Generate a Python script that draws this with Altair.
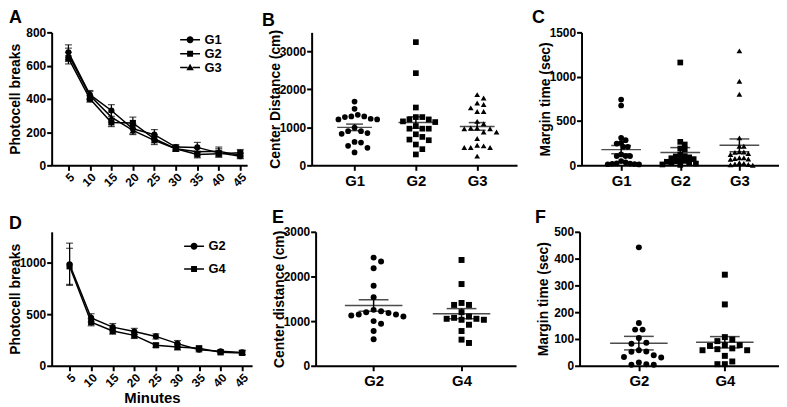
import json
import altair as alt
import numpy as np
import pandas as pd

FONT = "Liberation Sans"

# ---------------- Panel A: photocell breaks per 5-min bin (mean, SEM)
minutes = [5, 10, 15, 20, 25, 30, 35, 40, 45]
a_groups = ["G1", "G2", "G3"]
a_g1_mean = [680, 425, 330, 220, 185, 110, 108, 75, 55]
a_g1_sem = [45, 25, 35, 30, 30, 15, 30, 25, 15]
a_g2_mean = [645, 400, 258, 255, 160, 100, 65, 70, 75]
a_g2_sem = [35, 20, 25, 35, 25, 15, 20, 20, 20]
a_g3_mean = [665, 420, 290, 210, 150, 100, 82, 85, 60]
a_g3_sem = [40, 25, 30, 25, 25, 15, 20, 25, 15]

# ---------------- Panel D
d_groups = ["G2", "G4"]
d_g2_mean = [985, 465, 375, 333, 285, 215, 155, 140, 130]
d_g2_sem = [205, 40, 35, 30, 25, 30, 20, 15, 20]
d_g4_mean = [965, 423, 337, 295, 199, 183, 170, 130, 125]
d_g4_sem = [175, 35, 30, 30, 20, 30, 20, 15, 20]

# ---------------- Panel B: center distance (cm)
b_cats = ["G1", "G2", "G3"]
b_g1 = [1678, 1487, 1287, 1270, 1209, 1209, 1226, 1287, 1330, 990, 900, 900,
        850, 830, 617, 600, 513, 460, 339]
b_g2 = [3243, 2426, 1522, 1270, 1270, 1139, 1157, 1209, 1209, 965, 965, 1035,
        965, 748, 817, 661, 678, 548, 426, 287]
b_g3 = [1861, 1774, 1600, 1643, 1513, 1417, 1417, 1157, 1096, 983, 965, 965,
        983, 878, 878, 704, 513, 470, 470, 470, 530, 243]

# ---------------- Panel C: margin time (sec)
c_cats = ["G1", "G2", "G3"]
c_g1 = [742, 675, 310, 284, 254, 246, 209, 209, 123, 104, 104, 104, 48, 35,
        22, 20, 18, 15, 12, 10]
c_g2 = [1160, 265, 235, 190, 180, 120, 100, 104, 90, 80, 70, 60, 50, 45, 40,
        30, 25, 20, 10, 5]
c_g3 = [1291, 948, 802, 310, 216, 216, 153, 150, 146, 134, 123, 86, 86, 78,
        71, 67, 30, 22, 15, 10, 5, 0]

# ---------------- Panel E: center distance (cm)
e_cats = ["G2", "G4"]
e_g2 = [2422, 2333, 2185, 1793, 1533, 1252, 1222, 1200, 1180, 1150, 1148,
        1126, 1104, 941, 1000, 778, 593]
e_g4 = [2370, 1830, 1363, 1363, 1407, 1200, 1074, 1052, 1030, 1030, 1052,
        1104, 919, 778, 585, 511]

# ---------------- Panel F: margin time (sec)
f_cats = ["G2", "G4"]
f_g2 = [442, 160, 135, 135, 104, 82, 86, 58, 52, 53, 39, 33, 31, 6, 4, 4, 12]
f_g4 = [340, 229, 107, 98, 92, 77, 74, 77, 58, 65, 58, 62, 37, 16, 6, 6]

# legend symbols: line segment with the marker in the middle
CIRCLE_L = ("M-2,-0.15L-0.5,-0.15L-0.5,0.15L-2,0.15Z "
            "M0.5,-0.15L2,-0.15L2,0.15L0.5,0.15Z "
            "M-0.7,0A0.7,0.7 0 1,1 0.7,0A0.7,0.7 0 1,1 -0.7,0Z")
SQUARE_L = ("M-2,-0.15L-0.6,-0.15L-0.6,0.15L-2,0.15Z "
            "M0.6,-0.15L2,-0.15L2,0.15L0.6,0.15Z "
            "M-0.6,-0.6L0.6,-0.6L0.6,0.6L-0.6,0.6Z")
TRI_L = ("M-2,-0.15L-0.5,-0.15L-0.5,0.15L-2,0.15Z "
         "M0.5,-0.15L2,-0.15L2,0.15L0.5,0.15Z "
         "M0,-0.75L0.75,0.55L-0.75,0.55Z")


def letter_title(letter, dx):
    return alt.TitleParams(text=letter, anchor="start", frame="group", dx=dx,
                           offset=-15, fontSize=18, font=FONT, fontWeight="bold",
                           color="black", baseline="alphabetic")


def line_panel(letter, groups, means, sems, shape_names, legend_paths, ymax,
               yticks, w, h, xdom, xtitle, lx, ly, rowpad, letter_dx):
    recs = []
    for g, m, s in zip(groups, means, sems):
        for t, mv, sv in zip(minutes, m, s):
            recs.append({"group": g, "minute": t, "mean": mv,
                         "lo": mv - sv, "hi": mv + sv})
    df = pd.DataFrame(recs)
    xs = alt.Scale(domain=xdom, nice=False, zero=False)
    xa = alt.Axis(values=minutes, labelAngle=-45, title=xtitle, labelFontSize=12,
                  titleFontSize=15, titlePadding=2, labelOverlap=False)
    ys = alt.Scale(domain=[0, ymax], nice=False, zero=True)
    ya = alt.Axis(values=yticks, title="Photocell breaks", format="d")
    X = alt.X("minute:Q", scale=xs, axis=xa)

    def Y(f):
        return alt.Y(f, type="quantitative", scale=ys, axis=ya)

    base = alt.Chart(df)
    rule = base.mark_rule(color="black", strokeWidth=1.2).encode(
        x=X, y=Y("lo"), y2=alt.Y2("hi"))
    cap_lo = base.mark_tick(color="black", orient="horizontal", size=7,
                            thickness=1.2).encode(x=X, y=Y("lo"))
    cap_hi = base.mark_tick(color="black", orient="horizontal", size=7,
                            thickness=1.2).encode(x=X, y=Y("hi"))
    line = base.mark_line(color="black", strokeWidth=1.5).encode(
        x=X, y=Y("mean"), detail="group:N")
    pts = base.mark_point(filled=True, opacity=1, color="black", size=38).encode(
        x=X, y=Y("mean"),
        shape=alt.Shape("group:N", scale=alt.Scale(domain=groups, range=shape_names),
                        legend=None))
    leg = base.mark_point(filled=True, opacity=0, color="black", size=100).encode(
        x=X, y=Y("mean"),
        shape=alt.Shape("group:N", scale=alt.Scale(domain=groups, range=legend_paths),
                        legend=alt.Legend(title=None, orient="none", legendX=lx,
                                          legendY=ly, labelFont=FONT, labelFontSize=13,
                                          labelFontWeight="bold", labelColor="black",
                                          labelOffset=8, symbolSize=100,
                                          symbolStrokeWidth=0, symbolFillColor="black",
                                          symbolOpacity=1, rowPadding=rowpad,
                                          padding=0)))
    return (alt.layer(rule, cap_lo, cap_hi, line, pts, leg)
            .resolve_scale(shape="independent")
            .properties(width=w, height=h, title=letter_title(letter, letter_dx)))


def swarm(vals, ppu, sep):
    placed = []
    offs = [0.0] * len(vals)
    order = np.argsort(-np.array(vals, float), kind="stable")
    cands = [0.0]
    for k in range(1, 40):
        cands += [k * sep / 2.0, -k * sep / 2.0]
    for i in order:
        y = vals[i] * ppu
        chosen = cands[-1]
        for c in cands:
            if all((c - px) ** 2 + (y - py) ** 2 >= sep * sep for px, py in placed):
                chosen = c
                break
        placed.append((chosen, y))
        offs[i] = chosen
    return offs


def dot_panel(letter, cats, group_vals, shape_names, ymax, yticks, ytitle, w, h,
              xdom, mean_w, cap_w, sep, pt_size, letter_dx):
    ppu = h / ymax
    xpp = (xdom[1] - xdom[0]) / w
    recs, stats = [], []
    for i, (c, vals) in enumerate(zip(cats, group_vals)):
        offs = swarm(vals, ppu, sep)
        for v, o in zip(vals, offs):
            recs.append({"cat": c, "x": i + o * xpp, "v": v})
        arr = np.array(vals, float)
        m = arr.mean()
        s = arr.std(ddof=1) / np.sqrt(len(arr))
        stats.append({"cat": c, "x": i, "mean": m, "lo": m - s, "hi": m + s})
    dpts = pd.DataFrame(recs)
    dst = pd.DataFrame(stats)
    xs = alt.Scale(domain=xdom, nice=False, zero=False)
    xa = alt.Axis(values=list(range(len(cats))), title=None, labelFontSize=15,
                  labelPadding=3, labelExpr=json.dumps(cats) + "[datum.value]")
    ys = alt.Scale(domain=[0, ymax], nice=False, zero=True)
    ya = alt.Axis(values=yticks, title=ytitle, format="d")
    X = alt.X("x:Q", scale=xs, axis=xa)

    def Y(f):
        return alt.Y(f, type="quantitative", scale=ys, axis=ya)

    pts = alt.Chart(dpts).mark_point(filled=True, opacity=1, color="black",
                                     size=pt_size).encode(
        x=X, y=Y("v"),
        shape=alt.Shape("cat:N", scale=alt.Scale(domain=cats, range=shape_names),
                        legend=None))
    sb = alt.Chart(dst)
    rule = sb.mark_rule(color="black", strokeWidth=1.5).encode(
        x=X, y=Y("lo"), y2=alt.Y2("hi"))
    mean = sb.mark_tick(color="black", orient="horizontal", size=mean_w,
                        thickness=1.5).encode(x=X, y=Y("mean"))
    lo = sb.mark_tick(color="black", orient="horizontal", size=cap_w,
                      thickness=1.5).encode(x=X, y=Y("lo"))
    hi = sb.mark_tick(color="black", orient="horizontal", size=cap_w,
                      thickness=1.5).encode(x=X, y=Y("hi"))
    return alt.layer(pts, rule, mean, lo, hi).properties(
        width=w, height=h, title=letter_title(letter, letter_dx))


A = line_panel("A", a_groups, [a_g1_mean, a_g2_mean, a_g3_mean],
               [a_g1_sem, a_g2_sem, a_g3_sem], ["circle", "square", "triangle-up"],
               [CIRCLE_L, SQUARE_L, TRI_L], 800, [0, 200, 400, 600, 800],
               197, 134, [1.1, 46.6], None, 133, 1, 0, -43)
B = dot_panel("B", b_cats, [b_g1, b_g2, b_g3], ["circle", "square", "triangle-up"],
              3500, [0, 1000, 2000, 3000], "Center Distance (cm)", 207, 134,
              [-0.7, 2.65], 35, 17, 6.5, 33, -50)
C = dot_panel("C", c_cats, [c_g1, c_g2, c_g3], ["circle", "square", "triangle-up"],
              1500, [0, 500, 1000, 1500], "Margin time (sec)", 199, 134,
              [-0.67, 2.67], 40, 20, 4.5, 33, -50)
D = line_panel("D", d_groups, [d_g2_mean, d_g4_mean], [d_g2_sem, d_g4_sem],
               ["circle", "square"], [CIRCLE_L, SQUARE_L], 1300, [0, 500, 1000],
               202, 135, [0.85, 47.3], "Minutes", 137, 8, 9, -43)
E = dot_panel("E", e_cats, [e_g2, e_g4], ["circle", "square"], 3000,
              [0, 1000, 2000, 3000], "Center distance (cm)", 202, 135,
              [-0.66, 1.62], 58, 30, 7.5, 36, -44)
F = dot_panel("F", f_cats, [f_g2, f_g4], ["circle", "square"], 500,
              [0, 100, 200, 300, 400, 500], "Margin time (sec)", 201, 135,
              [-0.69, 1.63], 58, 30, 7.5, 36, -45)

row1 = alt.hconcat(A, B, C, spacing=65, bounds="flush").resolve_scale(
    shape="independent")
row2 = alt.hconcat(D, E, F, spacing=64, bounds="flush").resolve_scale(
    shape="independent")

chart = (alt.vconcat(row1, row2, spacing=20)
         .resolve_scale(shape="independent")
         .properties(padding={"left": 1, "top": 0, "right": 0, "bottom": 0},
                     background="white")
         .configure_view(stroke=None)
         .configure_axis(grid=False, domainColor="black", domainWidth=2,
                         tickColor="black", tickWidth=2, tickSize=5,
                         labelColor="black", labelFont=FONT, labelFontWeight="bold",
                         labelFontSize=12, labelPadding=1, titleFont=FONT,
                         titleFontWeight="bold", titleFontSize=14, titleColor="black")
         .configure_axisY(minExtent=30, maxExtent=30, titlePadding=-1))

chart.save("out.html", embed_options={"renderer": "svg", "actions": False})
